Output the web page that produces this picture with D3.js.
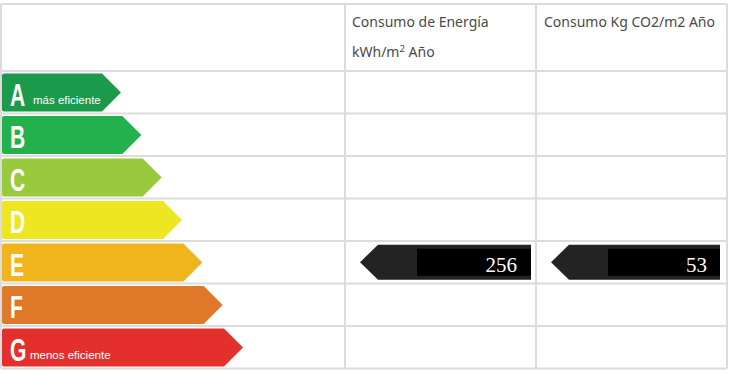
<!DOCTYPE html>
<html>
<head>
<meta charset="utf-8">
<script src="https://cdn.jsdelivr.net/npm/d3@7"></script>
<style>
  html, body { margin: 0; padding: 0; background: #fff; }
  svg { display: block; }
</style>
</head>
<body>
<div id="chart"></div>
<script>
// datos de la etiqueta energética
var classes = ["A", "B", "C", "D", "E", "F", "G"];
var classColors = ["#1b9a4b", "#22b14c", "#99c93d", "#ece623", "#f0b51d", "#e07829", "#e3302d"];
var classNotes = ["más eficiente", "", "", "", "", "", "menos eficiente"];
var columns = ["Consumo de Energía", "Consumo Kg CO2/m2 Año"];
var values = [256, 53];
var valueClass = ["E", "E"];

var width = 730, height = 374;

var svg = d3.select("#chart").append("svg")
    .attr("width", width)
    .attr("height", height);

// filas de la tabla
var yScale = d3.scaleBand()
    .domain(classes)
    .range([71, 368.5]);

// punta de cada flecha de clase
var tipScale = d3.scaleLinear()
    .domain([0, classes.length - 1])
    .range([121, 243]);

// columnas: etiqueta, energía, co2
var colEdges = [1, 345, 536, 727];

var grid = svg.append("g").attr("stroke", "#dcdcdc").attr("stroke-width", 2).attr("fill", "none");
var hLines = [4].concat(classes.map(function(c){ return yScale(c); })).concat([yScale.range()[1]]);
grid.selectAll("line.h")
    .data(hLines)
    .enter().append("line")
    .attr("class", "h")
    .attr("x1", colEdges[0]).attr("x2", colEdges[3])
    .attr("y1", function(d){ return d; }).attr("y2", function(d){ return d; });
grid.selectAll("line.v")
    .data(colEdges)
    .enter().append("line")
    .attr("class", "v")
    .attr("x1", function(d){ return d; }).attr("x2", function(d){ return d; })
    .attr("y1", 4).attr("y2", yScale.range()[1]);

// cabeceras
var head = svg.append("g")
    .style("font-family", "'Noto Sans', 'Open Sans', sans-serif")
    .style("font-size", "14px")
    .attr("fill", "#4a4a4a");
head.append("text").attr("x", 352).attr("y", 27).text(columns[0]);
var h2 = head.append("text").attr("x", 352).attr("y", 57);
h2.append("tspan").text("kWh/m");
h2.append("tspan").attr("dy", -5).style("font-size", "9.5px").text("2");
h2.append("tspan").attr("dy", 5).text(" Año");
head.append("text").attr("x", 544).attr("y", 27).text(columns[1]);

// flechas de clase
var barH = 38, pad = 2.5, depth = 19;
var bars = svg.append("g").selectAll("g")
    .data(classes)
    .enter().append("g")
    .attr("transform", function(d){ return "translate(0," + (yScale(d) + pad) + ")"; });

bars.append("path")
    .attr("fill", function(d, i){ return classColors[i]; })
    .attr("d", function(d, i){
        var tip = tipScale(i), x0 = 2, r = 2;
        return "M" + (x0 + r) + ",0 L" + (tip - depth) + ",0 L" + tip + "," + (barH / 2) +
            " L" + (tip - depth) + "," + barH + " L" + (x0 + r) + "," + barH +
            " Q" + x0 + "," + barH + " " + x0 + "," + (barH - r) +
            " L" + x0 + "," + r + " Q" + x0 + ",0 " + (x0 + r) + ",0 Z";
    });

bars.append("text")
    .attr("transform", "translate(10,32) scale(0.68,1)")
    .attr("fill", "#fff")
    .style("font-family", "'Liberation Sans', 'DejaVu Sans', sans-serif")
    .style("font-weight", "bold")
    .style("font-size", "31px")
    .text(function(d){ return d; });

bars.append("text")
    .attr("x", function(d){ return d === "G" ? 30 : 33; })
    .attr("y", 30)
    .attr("fill", "#fff")
    .style("font-family", "'Liberation Sans', sans-serif")
    .style("font-size", "11.5px")
    .text(function(d, i){ return classNotes[i]; });

// indicadores negros
var arrowDepth = 18, arrowH = 35;
var marks = svg.append("g").selectAll("g")
    .data(values)
    .enter().append("g")
    .attr("transform", function(d, i){
        return "translate(0," + (yScale(valueClass[i]) + yScale.bandwidth() / 2 - arrowH / 2) + ")";
    });

marks.append("path")
    .attr("fill", "#232323")
    .attr("d", function(d, i){
        var left = colEdges[i + 1] + 15, right = colEdges[i + 2] - 5 - (i === 1 ? 2 : 0);
        return "M" + left + "," + (arrowH / 2) + " L" + (left + arrowDepth) + ",0 L" + right + ",0 L" + right + "," + arrowH +
            " L" + (left + arrowDepth) + "," + arrowH + " Z";
    });

marks.append("rect")
    .attr("fill", "#000")
    .attr("x", function(d, i){ return colEdges[i + 1] + 72; })
    .attr("y", 4)
    .attr("width", function(d, i){ return colEdges[i + 2] - colEdges[i + 1] - 77 - (i === 1 ? 2 : 0); })
    .attr("height", arrowH - 8);

marks.append("text")
    .attr("x", function(d, i){ return colEdges[i + 2] - 19 - (i === 1 ? 1 : 0); })
    .attr("y", 27)
    .attr("text-anchor", "end")
    .attr("fill", "#fff")
    .style("font-family", "'Liberation Serif', 'DejaVu Serif', serif")
    .style("font-size", "21px")
    .text(function(d){ return d; });
</script>
</body>
</html>
